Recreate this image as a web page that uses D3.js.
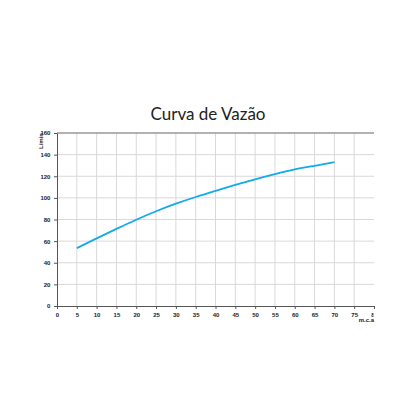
<!DOCTYPE html>
<html>
<head>
<meta charset="utf-8">
<script src="https://cdn.jsdelivr.net/npm/d3@7"></script>
<style>
  html, body { margin: 0; padding: 0; background: #fff; }
  svg { display: block; }
</style>
</head>
<body>
<svg id="chart" width="417" height="417"></svg>
<script>
// pressure (m.c.a) vs flow (L/min)
const pressure = [5, 10, 15, 20, 25, 30, 35, 40, 45, 50, 55, 60, 65, 70];
const flow = [53.5, 62.5, 71.3, 79.8, 87.6, 94.6, 100.8, 106.5, 112, 117.2, 122, 126.3, 129.7, 133];
const xTicks = [0, 5, 10, 15, 20, 25, 30, 35, 40, 45, 50, 55, 60, 65, 70, 75, 80];
const yTicks = [0, 20, 40, 60, 80, 100, 120, 140, 160];

const margin = { top: 133, right: 43, bottom: 111, left: 57 };
const width = 417 - margin.left - margin.right;
const height = 417 - margin.top - margin.bottom;

const svg = d3.select('#chart');

svg.append('text')
  .attr('x', 208)
  .attr('y', 120)
  .attr('text-anchor', 'middle')
  .attr('font-family', 'Lato, sans-serif')
  .attr('font-size', 17)
  .attr('fill', '#222')
  .text('Curva de Vazão');

const x = d3.scaleLinear().domain([0, 80]).range([0, width]);
const y = d3.scaleLinear().domain([0, 160]).range([height, 0]);

const chart = svg.append('g')
  .attr('transform', `translate(${margin.left}, ${margin.top})`);

// grid
chart.append('g')
  .selectAll('line')
  .data(xTicks.filter(d => d > 0 && d < 80))
  .enter()
  .append('line')
  .attr('x1', d => x(d)).attr('x2', d => x(d))
  .attr('y1', 0).attr('y2', height)
  .attr('stroke', '#d9d9d9')
  .attr('stroke-width', 1);

chart.append('g')
  .selectAll('line')
  .data(yTicks.filter(d => d > 0 && d < 160))
  .enter()
  .append('line')
  .attr('x1', 0).attr('x2', width)
  .attr('y1', d => y(d)).attr('y2', d => y(d))
  .attr('stroke', '#d9d9d9')
  .attr('stroke-width', 1);

// top border
chart.append('line')
  .attr('x1', 0).attr('x2', width)
  .attr('y1', y(160)).attr('y2', y(160))
  .attr('stroke', '#999')
  .attr('stroke-width', 1.5);

const xAxis = d3.axisBottom(x).tickValues(xTicks).tickSize(3).tickSizeOuter(0);
const yAxis = d3.axisLeft(y).tickValues(yTicks).tickSize(3).tickSizeOuter(0);

const gx = chart.append('g')
  .attr('transform', `translate(0, ${height})`)
  .call(xAxis);
const gy = chart.append('g').call(yAxis);

[gx, gy].forEach(g => {
  g.select('.domain').attr('stroke', '#555');
  g.selectAll('.tick line').attr('stroke', '#555');
  g.selectAll('.tick text')
    .attr('font-family', 'Arial, Liberation Sans, sans-serif')
    .attr('font-size', 6)
    .attr('font-weight', 'bold')
    .attr('fill', '#222');
});
gx.selectAll('.tick text').attr('dy', '0.9em');
gy.selectAll('.tick text').attr('dx', '-0.1em');

// cut the last label like the original
svg.append('rect')
  .attr('x', margin.left + width - 0.5).attr('y', margin.top + height + 4)
  .attr('width', 40).attr('height', 8)
  .attr('fill', '#fff');

const line = d3.line()
  .x((d, i) => x(pressure[i]))
  .y(d => y(d))
  .curve(d3.curveNatural);

chart.append('path')
  .datum(flow)
  .attr('d', line)
  .attr('fill', 'none')
  .attr('stroke', '#12aaeb')
  .attr('stroke-width', 1.8);

svg.append('text')
  .attr('transform', 'translate(43, 141) rotate(-90)')
  .attr('text-anchor', 'middle')
  .attr('font-family', 'Arial, Liberation Sans, sans-serif')
  .attr('font-size', 6)
  .attr('font-weight', 'bold')
  .attr('fill', '#222')
  .text('L/min');

svg.append('text')
  .attr('x', 374)
  .attr('y', 322)
  .attr('text-anchor', 'end')
  .attr('font-family', 'Arial, Liberation Sans, sans-serif')
  .attr('font-size', 6)
  .attr('font-weight', 'bold')
  .attr('fill', '#222')
  .text('m.c.a');
</script>
</body>
</html>
